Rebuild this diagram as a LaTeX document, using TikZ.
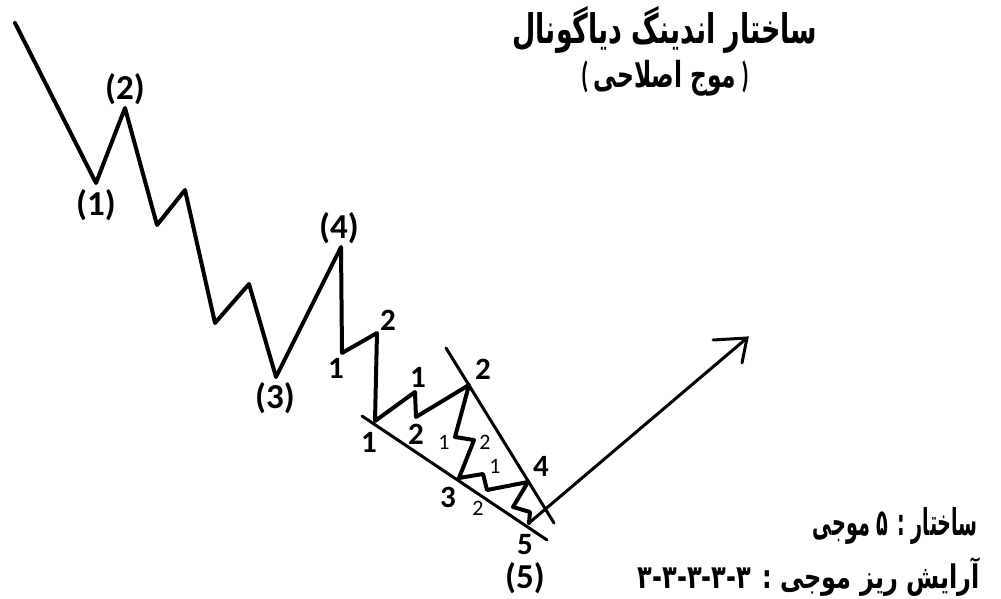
\documentclass[tikz,border=0pt]{standalone}
\usepackage{fontspec}
\usepackage{graphicx}
\setmainfont{Carlito}
\newfontfamily\arabicfont[Script=Arabic]{DejaVu Sans}
\TeXXeTstate=1
\begin{document}
\begin{tikzpicture}[x=1pt,y=-1pt,
  wave/.style={line width=4pt, line join=round, line cap=round},
  guide/.style={line width=3pt, line cap=round},
  bigpar/.style={font=\bfseries\fontsize{35}{35}\selectfont, inner sep=0pt},
  bigdig/.style={font=\bfseries\fontsize{31}{31}\selectfont, inner sep=0pt},
  smalldig/.style={font=\fontsize{22}{22}\selectfont, inner sep=0pt},
  fa/.style={inner sep=0pt}]
\useasboundingbox (0,0) rectangle (1001,599);
% main wave points
\coordinate (s0) at (15,23);
\coordinate (w1) at (96,183);
\coordinate (w2) at (125,108);
\coordinate (a1) at (157,225);
\coordinate (a2) at (185,190);
\coordinate (a3) at (215,323);
\coordinate (a4) at (249,284);
\coordinate (w3) at (276,377);
\coordinate (w4) at (341,247);
\coordinate (b1) at (342,353);
\coordinate (b2) at (377,333);
\coordinate (d1) at (375,421);
\coordinate (c1) at (415,392);
\coordinate (c2) at (416,417);
\coordinate (d2) at (469,385);
\coordinate (e1) at (455,437);
\coordinate (e2) at (474,440);
\coordinate (d3) at (459,478);
\coordinate (f1) at (483,474);
\coordinate (f2) at (487,490);
\coordinate (d4) at (528,482);
\coordinate (g1) at (513,507);
\coordinate (g2) at (530,512);
\coordinate (d5) at (529,523);
\coordinate (tip) at (747,338);
\coordinate (ah1) at (713,340);
\coordinate (ah2) at (742,363);
\coordinate (l0) at (362,416);
\coordinate (l1) at (547,540);
\coordinate (u0) at (446,348);
\coordinate (u1) at (554,523);

\draw[wave] (s0) -- (w1) -- (w2) -- (a1) -- (a2) -- (a3) -- (a4) -- (w3) -- (w4)
  -- (b1) -- (b2) -- (d1) -- (c1) -- (c2) -- (d2) -- (e1) -- (e2) -- (d3)
  -- (f1) -- (f2) -- (d4) -- (g1) -- (g2) -- (d5);
\draw[guide] (l0) -- (l1);
\draw[guide] (u0) -- (u1);
\draw[guide] (d5) -- (tip);
\draw[guide, line join=miter] (ah1) -- (tip) -- (ah2);

% labels
\node[bigpar] (L1) at (96,205) {(1)};
\node[bigpar] (L2) at (125,89) {(2)};
\node[bigpar] (L3) at (275,398) {(3)};
\node[bigpar] (L4) at (339,228) {(4)};
\node[bigpar] (L5) at (525,578) {(5)};
\node[bigdig] (n1a) at (336,368) {1};
\node[bigdig] (n2a) at (388,320) {2};
\node[bigdig] (n1b) at (369,442) {1};
\node[bigdig] (n1c) at (418,377) {1};
\node[bigdig] (n2c) at (416,434) {2};
\node[bigdig] (n2b) at (483,369) {2};
\node[bigdig] (n4b) at (541,466) {4};
\node[bigdig] (n3b) at (448,497) {3};
\node[bigdig] (n5b) at (525,545) {5};
\node[smalldig] (s1e) at (444,442) {1};
\node[smalldig] (s2e) at (485,442) {2};
\node[smalldig] (s1f) at (495,466) {1};
\node[smalldig] (s2f) at (478,508) {2};

% Persian texts
\node[fa] (title) at (665,30) {\resizebox*{305pt}{47pt}{\arabicfont\bfseries\beginR ساختار اندینگ دیاگونال\endR}};
\node[fa] (sub) at (665,78) {\resizebox*{168pt}{36pt}{{\bfseries(}\ {\arabicfont\bfseries\beginR موج اصلاحی\endR}\ {\bfseries)}}};
\node[fa, anchor=east] (st1) at (978,526) {\resizebox*{165pt}{37pt}{\arabicfont\bfseries\beginR ساختار : ۵ موجی\endR}};
\node[fa, anchor=east] (st2) at (980,577) {\resizebox*{342pt}{39pt}{\arabicfont\bfseries\beginR آرایش ریز موجی : ۳-۳-۳-۳-۳\endR}};
\end{tikzpicture}
\end{document}
